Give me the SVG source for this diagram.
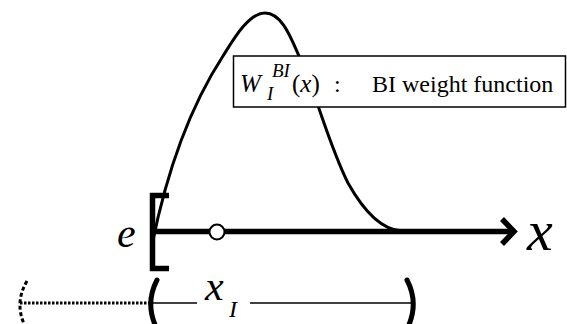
<svg xmlns="http://www.w3.org/2000/svg" width="567" height="324" viewBox="0 0 567 324">
<style>
text{font-family:"Liberation Serif","Times New Roman",Times,Tinos,"Noto Serif","DejaVu Serif",serif;fill:#000}
.it{font-style:italic}
.thick{fill:none;stroke:#000;stroke-width:5.5}
.curve{fill:none;stroke:#000;stroke-width:3;stroke-linecap:round}
.thin{fill:none;stroke:#000;stroke-width:1.5}
</style>
<rect width="567" height="324" fill="#fff"/>
<g id="weight-curve">
<path class="curve" d="M152,245 C164,185 184,116 223,56 C232,42 248,13 265,13 C282,13 291,38 299,56 C317,96 328,143 348,183 C362,208 380,230 402,231"/>
</g>
<g id="label-box">
<rect x="233.5" y="56" width="332" height="51" fill="#fff" stroke="#000" stroke-width="1.5"/>
<text class="it" x="240" y="91.5" font-size="25">W</text>
<text class="it" x="272" y="77" font-size="19">BI</text>
<text class="it" x="267" y="100" font-size="19">I</text>
<text x="292" y="91.5" font-size="25">(<tspan class="it">x</tspan>)</text>
<text x="334" y="91.5" font-size="24">:</text>
<text x="372" y="91.5" font-size="24">BI weight function</text>
</g>
<g id="connectors">
<line class="thick" x1="152" y1="231.5" x2="512" y2="231.5"/>
<polyline class="thick" points="502,219 514,231.5 502,244" stroke-linejoin="miter"/>
<path class="thick" d="M169,195.5 H152.5 V268.5 H169" stroke-linejoin="miter"/>
<line class="thin" x1="150" y1="303" x2="197" y2="303"/>
<line class="thin" x1="250" y1="303" x2="412" y2="303"/>
<line x1="20" y1="303" x2="150" y2="303" stroke="#000" stroke-width="3" stroke-dasharray="2.5 1.5"/>
<path d="M27,281 Q14,303 25,326" fill="none" stroke="#000" stroke-width="3" stroke-dasharray="4 2.5"/>
<path d="M157,280 Q145,303 156,327" fill="none" stroke="#000" stroke-width="5" stroke-linecap="round"/>
<path d="M407,280 Q419,303 408,327" fill="none" stroke="#000" stroke-width="5" stroke-linecap="round"/>
</g>
<g id="node-point">
<circle cx="217" cy="232" r="7.5" fill="#fff" stroke="#000" stroke-width="2"/>
</g>
<g id="labels">
<text class="it" x="117" y="247" font-size="42">e</text>
<text class="it" x="527" y="250" font-size="58">x</text>
<text class="it" x="205" y="300" font-size="42">x</text>
<text class="it" x="229" y="317" font-size="24">I</text>
</g>
</svg>
